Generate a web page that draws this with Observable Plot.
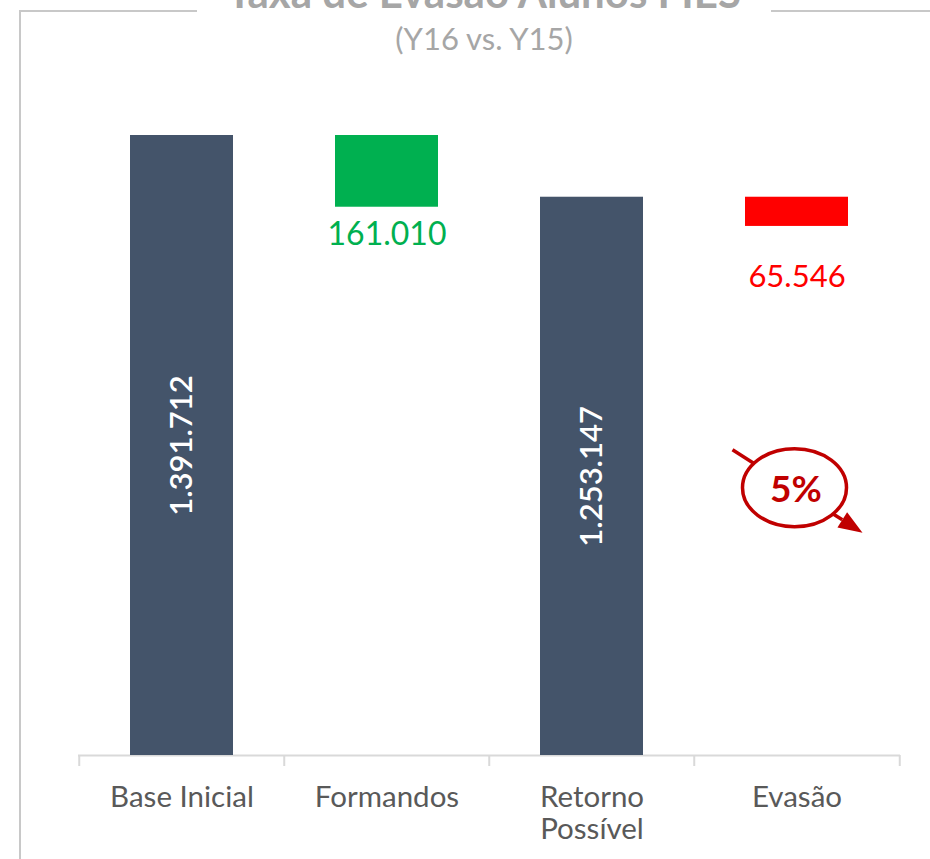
<!DOCTYPE html>
<html>
<head>
<meta charset="utf-8">
<script src="https://cdn.jsdelivr.net/npm/d3@7"></script>
<script src="https://cdn.jsdelivr.net/npm/@observablehq/plot@0.6"></script>
<style>
  body { margin: 0; background: #fff; }
  #wrap { position: relative; width: 930px; height: 859px; overflow: hidden; font-family: Lato, "Noto Sans", sans-serif; }
  #frame { position: absolute; left: 19px; top: 10px; width: 960px; height: 900px; border-top: 2px solid #c8c8c8; border-left: 2px solid #c8c8c8; }
  #chart { position: absolute; left: 0; top: 0; }
  #title { position: absolute; left: 197px; width: 574px; top: -29px; height: 41px; background: #fff; text-align: center; font-weight: 700; font-size: 42px; line-height: 42px; color: #a6a6a6; white-space: nowrap; z-index: 2; }
  #subtitle { position: absolute; left: 197px; width: 574px; top: 20px; text-align: center; font-size: 31px; line-height: 36px; color: #a6a6a6; white-space: nowrap; z-index: 2; }
</style>
</head>
<body>
<div id="wrap">
  <div id="frame"></div>
  <div id="chart"></div>
  <div id="title">Taxa de Evasão Alunos FIES</div>
  <div id="subtitle">(Y16 vs. Y15)</div>
</div>
<script>
// ---- data ----
const categories = ["Base Inicial", "Formandos", "Retorno Possível", "Evasão"];
const values = [1391712, 161010, 1253147, 65546];
const kinds = ["total", "decrease", "total", "decrease"];
const axisLabels = ["Base Inicial", "Formandos", "Retorno\nPossível", "Evasão"];

// ---- derived waterfall rows ----
let prev = 0;
const rows = categories.map((cat, i) => {
  let y1, y2;
  if (kinds[i] === "total") { y1 = 0; y2 = values[i]; prev = values[i]; }
  else { y2 = prev; y1 = prev - values[i]; }
  return { cat, value: values[i], kind: kinds[i], y1, y2 };
});
const evasaoPct = Math.round(values[3] / values[2] * 100) + "%";

// ---- styling ----
const colorOf = { "Base Inicial": "#44546a", "Formandos": "#00b050", "Retorno Possível": "#44546a", "Evasão": "#ff0000" };
const W = 930, H = 859, mL = 78, mR = 30, mT = 135, mB = 104;
const step = (W - mL - mR) / categories.length;
const fmt = d3.formatLocale({ decimal: ",", thousands: ".", grouping: [3], currency: ["R$", ""] }).format(",d");
const annY = 600000;
const annColor = "#c00000";

const chart = Plot.plot({
  width: W, height: H,
  marginLeft: mL, marginRight: mR, marginTop: mT, marginBottom: mB,
  style: { background: "transparent", fontFamily: "Lato, 'Noto Sans', sans-serif", overflow: "visible" },
  x: { domain: categories, paddingInner: 0.5, paddingOuter: 0.25, axis: null },
  y: { domain: [0, d3.max(values)], axis: null },
  marks: [
    Plot.ruleY([0], { stroke: "#d9d9d9", strokeWidth: 2 }),
    Plot.ruleX(categories, { x: d => d, dx: -step / 2, insetTop: H - mT - mB, insetBottom: -11, stroke: "#d9d9d9", strokeWidth: 2 }),
    Plot.ruleX(categories.slice(-1), { x: d => d, dx: step / 2, insetTop: H - mT - mB, insetBottom: -11, stroke: "#d9d9d9", strokeWidth: 2 }),
    Plot.barY(rows, { x: "cat", y1: "y1", y2: "y2", fill: d => colorOf[d.cat] }),
    Plot.text(categories, { x: d => d, frameAnchor: "bottom", lineAnchor: "top", dy: 28, text: d => axisLabels[categories.indexOf(d)], fontSize: 29.5, lineHeight: 1.1, fill: "#595959" }),
    Plot.text(rows.filter(d => d.kind === "total"), { x: "cat", y: d => d.value / 2, text: d => fmt(d.value), rotate: -90, fill: "white", fontSize: 31, fontWeight: 600 }),
    Plot.text(rows.filter(d => d.cat === "Formandos"), { x: "cat", y: "y1", text: d => fmt(d.value), lineAnchor: "top", dy: 15, fill: "#00b050", fontSize: 32 }),
    Plot.text(rows.filter(d => d.cat === "Evasão"), { x: "cat", y: "y1", text: d => fmt(d.value), lineAnchor: "top", dy: 39, fill: "#ff0000", fontSize: 31 }),
    Plot.text([{ cat: "Evasão", v: annY, label: evasaoPct }], {
      x: "cat", y: "v", text: "label", fill: annColor, fontWeight: 700, fontSize: 37, dx: -1, dy: 2,
      render(index, scales, vals, dimensions, context, next) {
        const node = next(index, scales, vals, dimensions, context);
        const sx = scales.x;
        const bw = typeof sx.bandwidth === "function" ? sx.bandwidth() : (sx.bandwidth || 0);
        const cx = sx("Evasão") + bw / 2 - 2, cy = scales.y(annY);
        const g = d3.create("svg:g");
        const ux = 0.843, uy = 0.538, tipX = cx + 68, tipY = cy + 45, hl = 24, hw = 9;
        const bx = tipX - ux * hl, by = tipY - uy * hl;
        g.append("line").attr("x1", cx - 62).attr("y1", cy - 38).attr("x2", bx).attr("y2", by)
          .attr("stroke", annColor).attr("stroke-width", 3.5);
        g.append("path").attr("d", `M${tipX},${tipY}L${bx - uy * hw},${by + ux * hw}L${bx + uy * hw},${by - ux * hw}Z`)
          .attr("fill", annColor);
        g.append("ellipse").attr("cx", cx).attr("cy", cy).attr("rx", 52).attr("ry", 39)
          .attr("fill", "white").attr("stroke", annColor).attr("stroke-width", 3.5);
        g.node().appendChild(node);
        return g.node();
      }
    })
  ]
});
document.getElementById("chart").appendChild(chart);
</script>
</body>
</html>
